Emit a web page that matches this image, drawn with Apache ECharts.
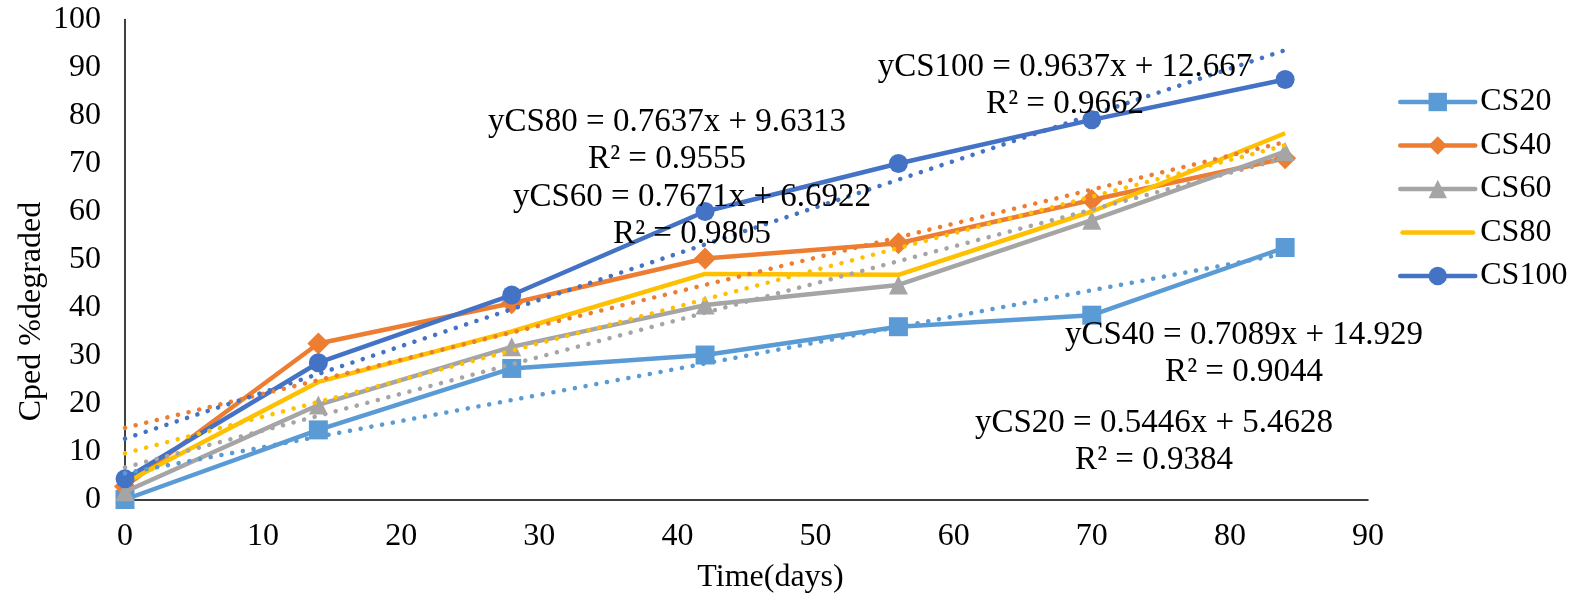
<!DOCTYPE html>
<html>
<head>
<meta charset="utf-8">
<script src="https://cdn.jsdelivr.net/npm/echarts@6/dist/echarts.min.js"></script>
<style>
html,body{margin:0;padding:0;background:#fff;}
#chart{width:1583px;height:600px;}
</style>
</head>
<body>
<div id="chart"></div>
<script>
const days = [0, 14, 28, 42, 56, 70, 84];
const seriesNames = ['CS20', 'CS40', 'CS60', 'CS80', 'CS100'];
const cs20 = [0, 14.5, 27.3, 30.1, 36.0, 38.4, 52.5];
const cs40 = [2.7, 32.5, 40.9, 50.2, 53.4, 62.4, 71.1];
const cs60 = [1.6, 19.7, 31.8, 40.5, 44.7, 58.2, 72.5];
const cs80 = [3.5, 24.5, 35.0, 47.0, 46.8, 60.0, 76.3];
const cs100 = [4.3, 28.5, 42.6, 60.0, 70.0, 79.1, 87.5];
// trendline end points (x = 0 and x = 84), read from the linear fits shown
const trendX = [0, 84];
const trend20 = [5.46, 51.21];
const trend40 = [14.93, 74.48];
const trend60 = [6.69, 71.13];
const trend80 = [9.63, 73.78];
const trend100 = [12.67, 93.62];
const eqLines = [
  ['yCS100 = 0.9637x + 12.667', 'R² = 0.9662'],
  ['yCS80 = 0.7637x + 9.6313', 'R² = 0.9555'],
  ['yCS60 = 0.7671x + 6.6922', 'R² = 0.9805'],
  ['yCS40 = 0.7089x + 14.929', 'R² = 0.9044'],
  ['yCS20 = 0.5446x + 5.4628', 'R² = 0.9384']
];
const xTicks = [0, 10, 20, 30, 40, 50, 60, 70, 80, 90];

const colors = ['#5B9BD5', '#ED7D31', '#A5A5A5', '#FFC000', '#4472C4'];
const symbols = ['rect', 'diamond', 'triangle', 'none', 'circle'];
const values = [cs20, cs40, cs60, cs80, cs100];
const trends = [trend20, trend40, trend60, trend80, trend100];
const FONT = '"Liberation Serif", "Times New Roman", serif';

const zip = (xs, ys) => xs.map((x, i) => [x, ys[i]]);

const series = [];
values.forEach((v, i) => {
  series.push({
    name: seriesNames[i],
    type: 'line',
    data: zip(days, v),
    symbol: symbols[i],
    symbolSize: symbols[i] === 'diamond' ? 22 : 19,
    showSymbol: symbols[i] !== 'none',
    lineStyle: { color: colors[i], width: 4.5, join: 'round' },
    itemStyle: { color: colors[i] },
    z: 2 + i,
    animation: false
  });
});
trends.forEach((t, i) => {
  series.push({
    name: seriesNames[i] + ' trend',
    type: 'line',
    data: zip(trendX, t),
    symbol: 'none',
    lineStyle: { color: colors[i], width: 4.5, type: [0.1, 10.8], cap: 'round' },
    z: 10 + i,
    silent: true,
    animation: false
  });
});

// annotation layout (centre x, first line y)
const eqPos = [[1065, 67], [667, 122], [692, 197], [1244, 335], [1154, 423]];
const graphics = [];
eqLines.forEach((lines, i) => {
  lines.forEach((txt, j) => {
    graphics.push({
      type: 'text',
      x: eqPos[i][0],
      y: eqPos[i][1] + j * 37,
      z: 100,
      style: {
        text: txt,
        font: '33px ' + FONT,
        fill: '#000',
        textAlign: 'center',
        textVerticalAlign: 'middle'
      }
    });
  });
});

const legendData = seriesNames.map((n, i) => symbols[i] === 'none'
  ? { name: n, icon: 'path://M2.25,0 L72.75,0 A2.25,2.25 0 0 1 72.75,4.5 L2.25,4.5 A2.25,2.25 0 0 1 2.25,0 Z' }
  : { name: n });

const chart = echarts.init(document.getElementById('chart'), null, { renderer: 'canvas' });
chart.setOption({
  backgroundColor: '#fff',
  animation: false,
  grid: { left: 125, right: 215, top: 19.5, bottom: 100.5, containLabel: false },
  xAxis: {
    type: 'value',
    min: 0, max: 90, interval: 10,
    name: 'Time(days)',
    nameLocation: 'middle',
    nameGap: 62,
    nameMoveOverlap: false,
    nameTextStyle: { fontFamily: FONT, fontSize: 32, color: '#000', padding: [0, 0, 0, 48] },
    axisLine: { show: true, lineStyle: { color: '#000', width: 1.5 } },
    axisTick: { show: false },
    splitLine: { show: false },
    axisLabel: {
      fontFamily: FONT, fontSize: 32, color: '#000', margin: 21,
      formatter: v => xTicks.includes(v) ? String(v) : ''
    }
  },
  yAxis: {
    type: 'value',
    min: 0, max: 100, interval: 10,
    name: 'Cped %degraded',
    nameLocation: 'middle',
    nameRotate: 90,
    nameGap: 77,
    nameMoveOverlap: false,
    nameTextStyle: { fontFamily: FONT, fontSize: 32, color: '#000', padding: [0, 104, 0, 0] },
    axisLine: { show: true, lineStyle: { color: '#000', width: 1.5 } },
    axisTick: { show: false },
    splitLine: { show: false },
    axisLabel: { fontFamily: FONT, fontSize: 32, color: '#000', margin: 24 }
  },
  legend: {
    data: legendData,
    orient: 'vertical',
    left: 1393,
    top: 81,
    itemWidth: 75,
    itemHeight: 23,
    itemGap: 11.5,
    lineStyle: { width: 4.5, cap: 'round' },
    textStyle: { fontFamily: FONT, fontSize: 32, color: '#000', lineHeight: 32 }
  },
  graphic: graphics,
  series: series
});
</script>
</body>
</html>
